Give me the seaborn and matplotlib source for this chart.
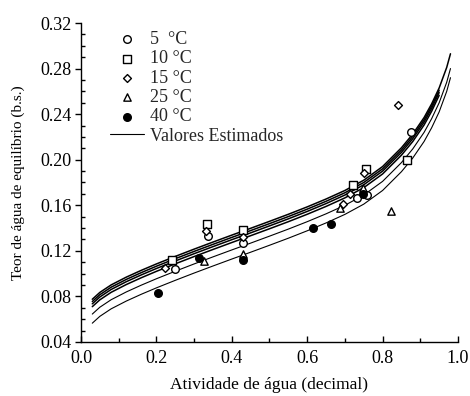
import numpy as np
import pandas as pd
import seaborn as sns
import matplotlib.pyplot as plt
from matplotlib.ticker import MultipleLocator, FormatStrFormatter

# Experimental points (water activity, equilibrium moisture) per temperature.
temps = ["5  °C", "10 °C", "15 °C", "25 °C", "40 °C"]
aw_5 = [0.249, 0.338, 0.431, 0.731, 0.758, 0.875]
x_5 = [0.104, 0.133, 0.127, 0.1666, 0.169, 0.224]
aw_10 = [0.242, 0.333, 0.431, 0.721, 0.756, 0.866]
x_10 = [0.112, 0.1435, 0.1382, 0.1775, 0.1915, 0.1996]
aw_15 = [0.222, 0.331, 0.431, 0.696, 0.713, 0.751, 0.842]
x_15 = [0.1047, 0.1377, 0.1324, 0.1608, 0.170, 0.1886, 0.248]
aw_25 = [0.327, 0.431, 0.687, 0.749, 0.821]
x_25 = [0.111, 0.117, 0.1578, 0.175, 0.155]
aw_40 = [0.203, 0.313, 0.431, 0.616, 0.662, 0.747]
x_40 = [0.0827, 0.114, 0.112, 0.1403, 0.144, 0.170]

# Estimated curves.
aw_fit = [0.03, 0.05, 0.08, 0.12, 0.16, 0.20, 0.25, 0.30, 0.35, 0.40, 0.45, 0.50, 0.55,
          0.60, 0.65, 0.70, 0.75, 0.80, 0.85, 0.88, 0.91, 0.93, 0.95, 0.97, 0.98]
fit_1 = [0.0775, 0.0835, 0.0901, 0.0969, 0.1029, 0.1085, 0.1151, 0.1215, 0.1277, 0.1338, 0.1398,
         0.1459, 0.1521, 0.1586, 0.1655, 0.1730, 0.1820, 0.1940, 0.2105, 0.2225, 0.2370, 0.2490,
         0.2630, 0.2810, 0.2930]
fit_2 = [0.0755, 0.0815, 0.0881, 0.0949, 0.1009, 0.1065, 0.1131, 0.1195, 0.1257, 0.1318, 0.1378,
         0.1439, 0.1501, 0.1566, 0.1635, 0.1710, 0.1800, 0.1920, 0.2085, 0.2205, 0.2350, 0.2470,
         0.2610]
fit_3 = [0.0735, 0.0795, 0.0861, 0.0929, 0.0989, 0.1045, 0.1111, 0.1175, 0.1237, 0.1298, 0.1358,
         0.1419, 0.1481, 0.1546, 0.1615, 0.1690, 0.1780, 0.1900, 0.2065, 0.2185, 0.2330, 0.2450,
         0.2590]
fit_4 = [0.0710, 0.0770, 0.0836, 0.0904, 0.0964, 0.1020, 0.1086, 0.1150, 0.1212, 0.1273, 0.1333,
         0.1394, 0.1456, 0.1521, 0.1590, 0.1665, 0.1755, 0.1875, 0.2040, 0.2160, 0.2305, 0.2425,
         0.2565]
fit_5 = [0.0645, 0.0705, 0.0771, 0.0839, 0.0899, 0.0955, 0.1021, 0.1085, 0.1147, 0.1208, 0.1268,
         0.1329, 0.1391, 0.1456, 0.1525, 0.1600, 0.1690, 0.1810, 0.1975, 0.2095, 0.2240, 0.2360,
         0.2500, 0.2680, 0.2800]
fit_6 = [0.0565, 0.0625, 0.0691, 0.0759, 0.0819, 0.0875, 0.0941, 0.1005, 0.1067, 0.1128, 0.1188,
         0.1249, 0.1311, 0.1376, 0.1445, 0.1520, 0.1610, 0.1730, 0.1895, 0.2015, 0.2160, 0.2280,
         0.2420, 0.2600, 0.2720]

x_ticks = [0.0, 0.2, 0.4, 0.6, 0.8, 1.0]
y_ticks = [0.04, 0.08, 0.12, 0.16, 0.20, 0.24, 0.28, 0.32]

sns.set_theme(style="ticks", rc={"axes.linewidth": 1.0, "xtick.color": "black", "ytick.color": "black",
                                 "axes.edgecolor": "black", "axes.labelcolor": "black"})
plt.rcParams["font.family"] = ["Liberation Serif", "DejaVu Serif"]

fig = plt.figure(figsize=(4.7, 3.96), dpi=100)
ax = fig.add_axes([0.1723, 0.1364, 0.8022, 0.8055])

# Model curves.
fits = [(fit_1, 1.1), (fit_2, 1.1), (fit_3, 1.1), (fit_4, 1.1), (fit_5, 0.8), (fit_6, 0.8)]
for fit, lw in fits:
    sns.lineplot(x=aw_fit[:len(fit)], y=fit, ax=ax, color="black", linewidth=lw,
                 legend=False, zorder=2)

# Experimental points.
points = [(aw_5, x_5, "o", "white", 30), (aw_10, x_10, "s", "white", 30), (aw_15, x_15, "D", "white", 16),
          (aw_25, x_25, "^", "white", 28), (aw_40, x_40, "o", "black", 30)]
for name, (aw, xe, m, fc, s) in zip(temps, points):
    sns.scatterplot(x=aw, y=xe, ax=ax, marker=m, s=s, facecolor=fc, edgecolor="black",
                    linewidth=1.0, label=name, zorder=3)

# Legend entry for the curves.
ax.plot([], [], color="black", linewidth=0.8, label="Valores Estimados")

ax.legend(loc="upper left", bbox_to_anchor=(0.077, 0.975), frameon=False, borderaxespad=0,
          borderpad=0, fontsize=13, labelspacing=0.13, handlelength=1.9, handletextpad=0.3)

ax.set_xlim(0, 1.0)
ax.set_ylim(0.04, 0.32)
ax.set_xticks(x_ticks)
ax.set_yticks(y_ticks)
ax.xaxis.set_minor_locator(MultipleLocator(0.1))
ax.yaxis.set_minor_locator(MultipleLocator(0.01))
ax.xaxis.set_major_formatter(FormatStrFormatter("%.1f"))
ax.yaxis.set_major_formatter(FormatStrFormatter("%.2f"))
ax.tick_params(axis="x", which="major", direction="in", length=4, width=1, labelsize=13, pad=6)
ax.tick_params(axis="x", which="minor", direction="in", length=3, width=1)
ax.tick_params(axis="y", which="major", direction="out", length=4, width=1, labelsize=13, pad=3)
ax.tick_params(axis="y", which="minor", direction="in", length=3, width=1)
sns.despine(ax=ax)

ax.set_xlabel("Atividade de água (decimal)", fontsize=12.5, labelpad=7)
ax.set_ylabel("Teor de água de equilíbrio (b.s.)", fontsize=11, labelpad=11)

plt.savefig("out.png", dpi=100)
